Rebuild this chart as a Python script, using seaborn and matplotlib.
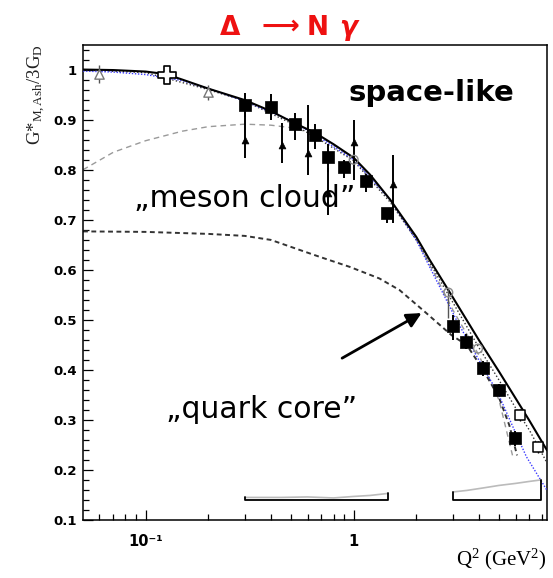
import matplotlib
matplotlib.use("Agg")
import matplotlib.pyplot as plt
import seaborn as sns
from matplotlib.ticker import FixedLocator, FixedFormatter, NullFormatter

# ---------------- model curves (Q^2 in GeV^2, G*_M,Ash / 3G_D) ----------------
q2_total = [0.05, 0.07, 0.1, 0.125, 0.15, 0.2, 0.3, 0.4, 0.52, 0.65, 0.8, 1.0,
            1.2, 1.5, 2.0, 2.32, 3.0, 4.0, 5.0, 6.0, 7.0, 8.5]
g_total = [1.0, 0.999, 0.996, 0.991, 0.980, 0.962, 0.939, 0.917, 0.893, 0.874,
           0.851, 0.824, 0.790, 0.740, 0.666, 0.620, 0.545, 0.460, 0.397, 0.344,
           0.299, 0.240]

q2_blue = [0.05, 0.07, 0.1, 0.15, 0.2, 0.3, 0.5, 0.7, 1.0, 1.5, 2.0, 2.23, 3.12,
           4.0, 4.94, 6.0, 6.77, 8.5]
g_blue = [0.997, 0.995, 0.990, 0.978, 0.962, 0.937, 0.898, 0.862, 0.820, 0.740,
          0.660, 0.620, 0.500, 0.420, 0.354, 0.275, 0.227, 0.160]

q2_dots = [0.05, 0.1, 0.2, 0.3, 0.5, 0.7, 1.0, 1.5, 2.0, 3.0, 4.0, 5.0, 6.3,
           7.0, 8.5]
g_dots = [0.999, 0.994, 0.960, 0.937, 0.893, 0.858, 0.818, 0.735, 0.660, 0.535,
          0.445, 0.380, 0.310, 0.280, 0.215]

q2_meson = [0.05, 0.07, 0.1, 0.15, 0.2, 0.3, 0.4, 0.5, 0.65, 0.8, 1.0, 1.5, 2.0,
            2.5, 3.0, 4.0, 5.0, 5.8]
g_meson = [0.800, 0.835, 0.858, 0.877, 0.886, 0.891, 0.889, 0.884, 0.872, 0.850,
           0.822, 0.740, 0.660, 0.585, 0.520, 0.430, 0.340, 0.230]

q2_core = [0.05, 0.1, 0.2, 0.3, 0.4, 0.55, 0.7, 0.96, 1.33, 1.66, 2.15, 2.95,
           3.5, 4.2, 5.0, 5.6, 6.1]
g_core = [0.677, 0.676, 0.672, 0.668, 0.660, 0.640, 0.625, 0.606, 0.583, 0.560,
          0.520, 0.470, 0.450, 0.400, 0.345, 0.290, 0.230]

# ---------------- data sets ----------------
# filled squares
q2_sq = [0.30, 0.40, 0.52, 0.65, 0.75, 0.90, 1.14, 1.45, 3.00, 3.48, 4.19, 4.98, 5.94]
g_sq = [0.930, 0.925, 0.892, 0.869, 0.826, 0.806, 0.778, 0.713, 0.489, 0.457,
        0.404, 0.360, 0.264]
sq_lo = [0.025, 0.026, 0.033, 0.027, 0.030, 0.023, 0.022, 0.020, 0.029, 0.015,
         0.015, 0.012, 0.015]
sq_hi = [0.024, 0.026, 0.021, 0.023, 0.026, 0.013, 0.013, 0.010, 0.021, 0.015,
         0.015, 0.012, 0.015]

# small filled triangles
q2_tri = [0.30, 0.45, 0.60, 0.75, 1.00, 1.55]
g_tri = [0.860, 0.850, 0.834, 0.753, 0.856, 0.771]
tri_lo = [0.037, 0.037, 0.045, 0.044, 0.077, 0.078]
tri_hi = [0.060, 0.044, 0.095, 0.050, 0.043, 0.058]

# open triangles
q2_otri = [0.06, 0.20]
g_otri = [0.992, 0.955]
otri_err = [0.018, 0.015]

# open cross
q2_cross = [0.126]
g_cross = [0.990]

# open squares
q2_osq = [6.28, 7.69]
g_osq = [0.310, 0.247]
osq_err = [0.012, 0.012]

# grey open circles
q2_circ = [1.00, 2.85, 3.96]
g_circ = [0.820, 0.555, 0.443]
circ_lo = [0.0, 0.050, 0.0]
circ_hi = [0.0, 0.010, 0.0]

# systematic uncertainty bands
sys_base = 0.141
q2_sys_a = [0.30, 0.45, 0.60, 0.80, 1.00, 1.20, 1.46]
g_sys_a = [0.146, 0.146, 0.147, 0.145, 0.148, 0.150, 0.154]
q2_sys_b = [3.0, 3.5, 4.2, 5.0, 6.0, 7.0, 7.95]
g_sys_b = [0.157, 0.160, 0.165, 0.170, 0.174, 0.178, 0.181]

# axis ticks
x_ticks = [0.1, 1.0]
x_tick_labels = ["10\u207b\u00b9", "1"]
x_minor = [0.06, 0.07, 0.08, 0.09, 0.2, 0.3, 0.4, 0.5, 0.6, 0.7, 0.8, 0.9,
           2, 3, 4, 5, 6, 7, 8]
y_ticks = [0.1, 0.2, 0.3, 0.4, 0.5, 0.6, 0.7, 0.8, 0.9, 1.0]
y_tick_labels = ["0.1", "0.2", "0.3", "0.4", "0.5", "0.6", "0.7", "0.8", "0.9", "1"]
y_minor = [round(0.1 + 0.02 * i, 2) for i in range(48)]

# annotation arrow (tail, head) in data coordinates
arrow_tail = (0.88, 0.424)
arrow_head = (2.12, 0.514)

# ---------------- style ----------------
sns.set_theme(style="white")
plt.rcParams.update({
    "font.family": ["DejaVu Sans"],
    "text.color": "black",
    "mathtext.fontset": "custom",
    "mathtext.rm": "Liberation Serif",
    "mathtext.it": "Liberation Serif:italic",
    "mathtext.bf": "Liberation Serif:bold",
    "axes.edgecolor": "black",
    "axes.linewidth": 1.1,
})

fig = plt.figure(figsize=(5.53, 5.78), dpi=100)
ax = fig.add_axes([0.1501, 0.0995, 0.8391, 0.8235])
ax.set_xscale("log")
ax.set_xlim(0.05, 8.5)
ax.set_ylim(0.1, 1.05)

# curves
sns.lineplot(x=q2_meson, y=g_meson, ax=ax, color="#9a9a9a", lw=1.0,
             linestyle=(0, (4, 3)), sort=False, estimator=None, zorder=2)
sns.lineplot(x=q2_core, y=g_core, ax=ax, color="#333333", lw=1.4,
             linestyle=(0, (2.5, 1.8)), sort=False, estimator=None, zorder=2)
sns.lineplot(x=q2_dots, y=g_dots, ax=ax, color="#333333", lw=1.0,
             linestyle=(0, (1, 1.6)), sort=False, estimator=None, zorder=3)
sns.lineplot(x=q2_blue, y=g_blue, ax=ax, color="#3a3aff", lw=1.0,
             linestyle=(0, (1, 1.2)), sort=False, estimator=None, zorder=3)
sns.lineplot(x=q2_total, y=g_total, ax=ax, color="black", lw=1.5,
             sort=False, estimator=None, zorder=4)

# error bars
ax.errorbar(q2_tri, g_tri, yerr=[tri_lo, tri_hi], fmt="none", ecolor="black",
            elinewidth=1.4, capsize=0, zorder=5)
ax.errorbar(q2_sq, g_sq, yerr=[sq_lo, sq_hi], fmt="none", ecolor="black",
            elinewidth=1.4, capsize=0, zorder=5)
ax.errorbar(q2_otri, g_otri, yerr=otri_err, fmt="none", ecolor="#555555",
            elinewidth=1.0, capsize=0, zorder=5)
ax.errorbar(q2_osq, g_osq, yerr=osq_err, fmt="none", ecolor="black",
            elinewidth=1.0, capsize=0, zorder=5)
ax.errorbar(q2_circ, g_circ, yerr=[circ_lo, circ_hi], fmt="none",
            ecolor="#555555", elinewidth=1.0, capsize=0, zorder=5)

# markers
sns.scatterplot(x=q2_tri, y=g_tri, ax=ax, marker="^", s=24, color="black",
                edgecolor="black", linewidth=0.5, zorder=6)
sns.scatterplot(x=q2_sq, y=g_sq, ax=ax, marker="s", s=75, color="black",
                edgecolor="black", linewidth=0.5, zorder=6)
sns.scatterplot(x=q2_otri, y=g_otri, ax=ax, marker="^", s=45, color="white",
                edgecolor="#777777", linewidth=1.0, zorder=6)
sns.scatterplot(x=q2_cross, y=g_cross, ax=ax, marker="P", s=150, color="white",
                edgecolor="black", linewidth=1.2, zorder=6)
sns.scatterplot(x=q2_osq, y=g_osq, ax=ax, marker="s", s=60, color="white",
                edgecolor="black", linewidth=1.1, zorder=6)
sns.scatterplot(x=q2_circ, y=g_circ, ax=ax, marker="o", s=40, color="none",
                edgecolor="#8a8a8a", linewidth=1.0, zorder=6)

# systematic bands: grey value line plus black bracket
for qs, gs in ((q2_sys_a, g_sys_a), (q2_sys_b, g_sys_b)):
    sns.lineplot(x=qs, y=gs, ax=ax, color="#bbbbbb", lw=1.2, sort=False,
                 estimator=None, zorder=3)
    ax.plot([qs[0], qs[0], qs[-1], qs[-1]], [gs[0], sys_base, sys_base, gs[-1]],
            color="black", lw=1.3, zorder=4)

# ---------------- axes ----------------
ax.xaxis.set_major_locator(FixedLocator(x_ticks))
ax.xaxis.set_major_formatter(FixedFormatter(x_tick_labels))
ax.xaxis.set_minor_locator(FixedLocator(x_minor))
ax.xaxis.set_minor_formatter(NullFormatter())
ax.yaxis.set_major_locator(FixedLocator(y_ticks))
ax.yaxis.set_major_formatter(FixedFormatter(y_tick_labels))
ax.yaxis.set_minor_locator(FixedLocator(y_minor))

ax.tick_params(which="both", direction="in", top=False, right=False,
               left=True, bottom=True, width=0.9, color="black")
ax.tick_params(axis="y", which="major", length=7.5, pad=4.5)
ax.tick_params(axis="y", which="minor", length=4)
ax.tick_params(axis="x", which="major", length=7, pad=10)
ax.tick_params(axis="x", which="minor", length=4)
for lab in ax.get_yticklabels():
    lab.set_fontweight("bold")
    lab.set_fontsize(9.5)
    lab.set_color("black")
for lab in ax.get_xticklabels():
    lab.set_fontweight("bold")
    lab.set_fontsize(10.5)
    lab.set_color("black")
for sp in ax.spines.values():
    sp.set_visible(True)
    sp.set_color("black")
    sp.set_linewidth(1.1)

ax.set_ylabel(r"G*$_{\mathrm{M,Ash}}$/3G$_{\mathrm{D}}$", loc="top",
              fontsize=13.5, family="Liberation Serif", color="#222222")
ax.yaxis.set_label_coords(-0.076, 1.0)
ax.set_xlabel(r"Q$^{2}$ (GeV$^{2}$)", loc="right", fontsize=15,
              family="Liberation Serif", color="black")
ax.xaxis.set_label_coords(1.0, -0.055)

# ---------------- labels ----------------
ax.text(0.573, 0.898, "space-like", transform=ax.transAxes, fontsize=21,
        fontweight="bold", color="black", ha="left", va="center", zorder=8)
ax.text(0.110, 0.659, "\u201emeson cloud\u201d", transform=ax.transAxes,
        fontsize=21.5, color="black", ha="left", va="baseline", zorder=8)
ax.text(0.178, 0.215, "\u201equark core\u201d", transform=ax.transAxes,
        fontsize=21.5, color="black", ha="left", va="baseline", zorder=8)
ax.annotate("", xy=arrow_head, xytext=arrow_tail,
            arrowprops=dict(arrowstyle="-|>", color="black", lw=2.0,
                            mutation_scale=22, shrinkA=0, shrinkB=0), zorder=8)

# title: Delta -> N gamma
title_color = "#ee1111"
fig.text(0.416, 0.939, "\u0394", fontsize=19, fontweight="bold",
         color=title_color, ha="center", va="baseline")
fig.text(0.507, 0.942, "\u27f6", fontsize=19, fontweight="bold",
         color=title_color, ha="center", va="baseline")
fig.text(0.574, 0.939, "N", fontsize=19, fontweight="bold",
         color=title_color, ha="center", va="baseline")
fig.text(0.630, 0.939, "\u03b3", fontsize=19, fontweight="bold",
         fontstyle="italic", color=title_color, ha="center", va="baseline")

fig.savefig("out.png", dpi=100)
